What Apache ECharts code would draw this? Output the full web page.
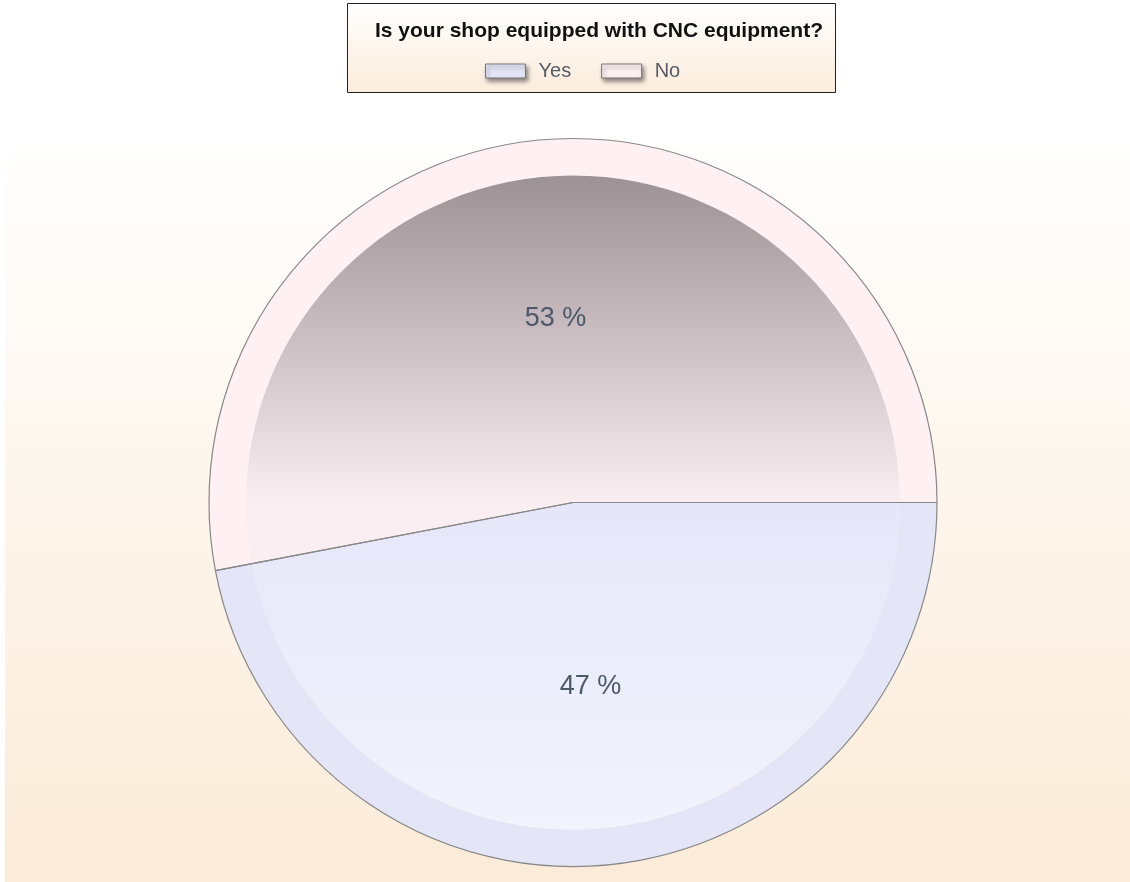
<!DOCTYPE html>
<html>
<head>
<meta charset="utf-8">
<script src="https://cdn.jsdelivr.net/npm/echarts@6/dist/echarts.min.js"></script>
<style>
html,body{margin:0;padding:0;background:#fff;}
#chart{width:1130px;height:882px;}
</style>
</head>
<body>
<div id="chart"></div>
<script>
// Data
const titleText = 'Is your shop equipped with CNC equipment?';
const categories = ['No', 'Yes'];
const values = [53, 47];
const legendOrder = ['Yes', 'No'];

const flatColors = { 'Yes': '#e4e6f8', 'No': '#fff0f4' };
const cx = 573, cy = 502.5, R = 364, r = 327;

const innerGradients = {
  'No': new echarts.graphic.LinearGradient(0, cy - r, 0, cy, [
    { offset: 0, color: '#9c9194' },
    { offset: 0.45, color: '#c6babe' },
    { offset: 1, color: '#fbeef2' }
  ], true),
  'Yes': new echarts.graphic.LinearGradient(0, cy, 0, cy + r, [
    { offset: 0, color: '#e5e6f8' },
    { offset: 1, color: '#f3f3fd' }
  ], true)
};

function makeData(styleFn) {
  return categories.map((c, i) => ({ name: c, value: values[i], itemStyle: styleFn(c) }));
}

const chart = echarts.init(document.getElementById('chart'), null, { renderer: 'canvas' });
const fontFamily = '"Liberation Sans", Arial, sans-serif';

chart.setOption({
  animation: false,
  backgroundColor: '#ffffff',
  graphic: [{
    type: 'rect',
    shape: { x: 5, y: 95, width: 1125, height: 787 },
    style: {
      fill: new echarts.graphic.LinearGradient(0, 0, 0, 1, [
        { offset: 0, color: '#ffffff' },
        { offset: 0.05, color: '#ffffff' },
        { offset: 1, color: '#fbebd8' }
      ])
    },
    z: -10, silent: true
  }, {
    type: 'rect',
    shape: { x: 347.5, y: 3.5, width: 488, height: 89 },
    style: {
      fill: new echarts.graphic.LinearGradient(0, 0, 0, 1, [
        { offset: 0, color: '#ffffff' },
        { offset: 1, color: '#fcecdc' }
      ]),
      stroke: '#222', lineWidth: 1
    },
    z: 0, silent: true
  }],
  title: {
    text: titleText,
    left: 594, top: 16, textAlign: 'center',
    textStyle: { fontFamily: fontFamily, fontSize: 21, fontWeight: 'bold', color: '#111' }
  },
  legend: {
    data: legendOrder.map(n => ({ name: n, itemStyle: { color: flatColors[n] } })),
    left: 480, top: 56,
    icon: 'rect',
    itemWidth: 40, itemHeight: 14,
    itemGap: 30,
    itemStyle: {
      borderColor: '#777', borderWidth: 1,
      shadowColor: 'rgba(0,0,0,0.45)', shadowBlur: 4, shadowOffsetX: 2, shadowOffsetY: 3
    },
    textStyle: { fontFamily: fontFamily, fontSize: 20, color: '#555a66', padding: [0, 0, 0, 8] }
  },
  series: [
    {
      type: 'pie', name: 'ring', center: [cx, cy], radius: [r, R],
      startAngle: 0, clockwise: false, silent: true,
      label: { show: false }, labelLine: { show: false },
      data: makeData(c => ({ color: flatColors[c], borderWidth: 0 })),
      z: 1
    },
    {
      type: 'pie', name: 'inner', center: [cx, cy], radius: [0, r],
      startAngle: 0, clockwise: false, silent: true,
      label: { show: false }, labelLine: { show: false },
      data: makeData(c => ({ color: innerGradients[c], borderWidth: 0 })),
      z: 2
    },
    {
      type: 'pie', name: 'border', center: [cx, cy], radius: [0, R],
      startAngle: 0, clockwise: false, silent: true,
      label: {
        show: true, position: 'inside',
        formatter: p => p.value + ' %',
        fontFamily: fontFamily, fontSize: 27, color: '#4b5968'
      },
      labelLine: { show: false },
      data: makeData(c => ({ color: 'rgba(0,0,0,0)', borderColor: '#888', borderWidth: 1.2 })),
      z: 3
    }
  ]
});
</script>
</body>
</html>
